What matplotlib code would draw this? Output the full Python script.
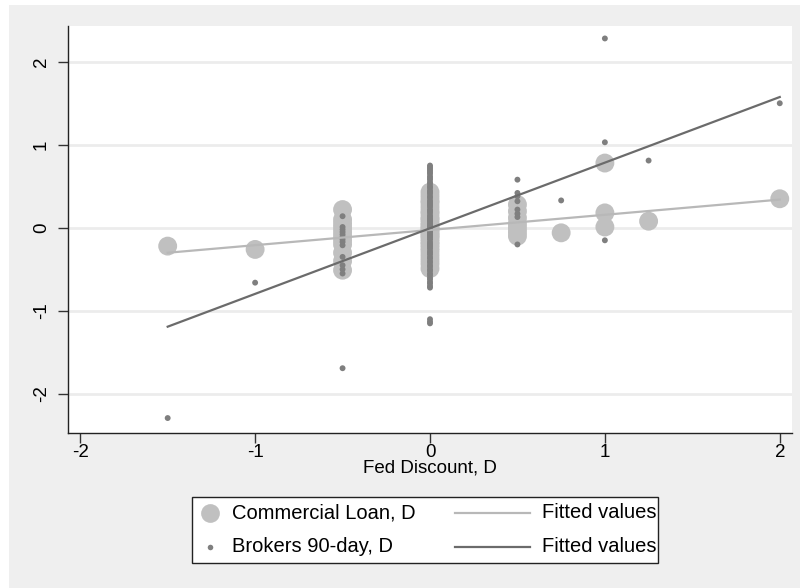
import matplotlib
matplotlib.use("Agg")
import matplotlib.pyplot as plt
from matplotlib.patches import Rectangle
from matplotlib.lines import Line2D

plt.rcParams['font.family'] = ['Liberation Sans', 'DejaVu Sans']

# Commercial Loan, D  (x = Fed Discount change, y = commercial loan rate change)
commercial_x = ([-1.5, -1.0]
                + [-0.5] * 11
                + [0.0] * 25
                + [0.5] * 7
                + [0.75]
                + [1.0] * 3
                + [1.25, 2.0])
commercial_y = ([-0.22, -0.26]
                + [0.22, 0.10, 0.05, 0.0, -0.05, -0.10, -0.15, -0.20, -0.30, -0.40, -0.51]
                + [0.43, 0.38, 0.33, 0.30, 0.25, 0.20, 0.17, 0.12, 0.10, 0.06, 0.03, 0.0,
                   -0.02, -0.05, -0.08, -0.10, -0.13, -0.17, -0.20, -0.24, -0.28, -0.33,
                   -0.38, -0.43, -0.49]
                + [0.28, 0.20, 0.12, 0.05, 0.0, -0.05, -0.10]
                + [-0.06]
                + [0.78, 0.18, 0.01]
                + [0.08, 0.35])

# Brokers 90-day, D
brokers_0 = [0.75, 0.73, 0.71, 0.69, 0.67, 0.65, 0.62, 0.60, 0.58, 0.55, 0.53, 0.50,
             0.48, 0.45, 0.43, 0.41, 0.38, 0.36, 0.33, 0.31, 0.29, 0.27, 0.25, 0.22,
             0.20, 0.18, 0.15, 0.13, 0.11, 0.09, 0.07, 0.05, 0.03, 0.01, 0.0, -0.02,
             -0.04, -0.06, -0.08, -0.10, -0.12, -0.14, -0.17, -0.19, -0.21, -0.23,
             -0.25, -0.28, -0.30, -0.32, -0.35, -0.37, -0.40, -0.42, -0.45, -0.47,
             -0.50, -0.52, -0.55, -0.57, -0.60, -0.62, -0.65, -0.67, -0.70, -0.72,
             -1.10, -1.13, -1.15]
brokers_x = ([-1.5, -1.0]
             + [-0.5] * 14
             + [0.0] * len(brokers_0)
             + [0.5] * 8
             + [0.75]
             + [1.0] * 3
             + [1.25, 2.0])
brokers_y = ([-2.29, -0.66]
             + [0.14, 0.01, -0.02, -0.05, -0.08, -0.11, -0.14, -0.17, -0.21, -0.35,
                -0.45, -0.50, -0.55, -1.69]
             + brokers_0
             + [0.58, 0.42, 0.38, 0.32, 0.22, 0.17, 0.13, -0.20]
             + [0.33]
             + [2.28, 1.03, -0.15]
             + [0.81, 1.50])

# Fitted values (linear fits, read at the ends of the x range)
fit_x = [-1.5, 2.0]
fit_commercial = [-0.30, 0.34]
fit_brokers = [-1.19, 1.575]

x_ticks = [-2, -1, 0, 1, 2]
y_ticks = [-2, -1, 0, 1, 2]
x_label = "Fed Discount, D"
legend_labels = ["Commercial Loan, D", "Brokers 90-day, D", "Fitted values", "Fitted values"]

W, H = 800, 588
fig = plt.figure(figsize=(W / 100, H / 100), dpi=100, facecolor='white')
fig.patches.append(Rectangle((9 / W, 0), 1 - 9 / W, 1 - 5 / H, transform=fig.transFigure,
                             facecolor='#efefef', edgecolor='none', zorder=-10))

ax = fig.add_axes([68 / W, 1 - 433 / H, (792 - 68) / W, (433 - 26) / H])
ax.set_facecolor('white')

light = '#c0c0c0'
dark = '#7f7f7f'
light_line = '#b8b8b8'
dark_line = '#6b6b6b'

ax.scatter(commercial_x, commercial_y, s=185, color=light, edgecolors='none', zorder=3)
ax.scatter(brokers_x, brokers_y, s=18, color=dark, edgecolors='none', zorder=4)
ax.plot(fit_x, fit_commercial, color=light_line, lw=1.6, zorder=5)
ax.plot(fit_x, fit_brokers, color=dark_line, lw=1.6, zorder=5)

ax.set_xlim(-2.07, 2.07)
ax.set_ylim(-2.47, 2.43)
ax.set_xticks(x_ticks)
ax.set_yticks(y_ticks)
ax.set_xticklabels([str(t) for t in x_ticks], fontsize=13.5)
ax.set_yticklabels([str(t) for t in y_ticks], fontsize=13.5, rotation=90, va='center')
ax.tick_params(axis='both', direction='out', length=7, width=1, color='#333333')
ax.tick_params(axis='x', pad=1)
ax.tick_params(axis='y', pad=6)
for s in ['top', 'right']:
    ax.spines[s].set_visible(False)
for s in ['left', 'bottom']:
    ax.spines[s].set_color('#222222')
    ax.spines[s].set_linewidth(1)
ax.grid(axis='y', color='#ececec', lw=2, zorder=0)
ax.set_axisbelow(True)
ax.set_xlabel(x_label, fontsize=13.5, labelpad=-1)

# Legend box (Stata-style, two columns)
def fx(px):
    return px / W

def fy(py):
    return 1 - py / H

fig.patches.append(Rectangle((fx(192), fy(563)), fx(658) - fx(192), fy(497) - fy(563),
                             transform=fig.transFigure, facecolor='white',
                             edgecolor='#222222', lw=1, zorder=1))
row_y = [513, 547]
fig.add_artist(Line2D([fx(210)], [fy(row_y[0])], ls='none', marker='o', markersize=13.5,
                      color=light, markeredgewidth=0, transform=fig.transFigure))
fig.add_artist(Line2D([fx(210)], [fy(row_y[1])], ls='none', marker='o', markersize=4,
                      color=dark, markeredgewidth=0, transform=fig.transFigure))
fig.add_artist(Line2D([fx(455), fx(530)], [fy(row_y[0])] * 2, color=light_line, lw=1.6,
                      transform=fig.transFigure))
fig.add_artist(Line2D([fx(455), fx(530)], [fy(row_y[1])] * 2, color=dark_line, lw=1.6,
                      transform=fig.transFigure))
for i, ry in enumerate(row_y):
    fig.text(fx(232), fy(ry), legend_labels[i], fontsize=14.5, va='center', ha='left')
    fig.text(fx(542), fy(ry), legend_labels[2 + i], fontsize=14.5, va='center', ha='left')

fig.savefig('out.png', dpi=100, facecolor=fig.get_facecolor())
